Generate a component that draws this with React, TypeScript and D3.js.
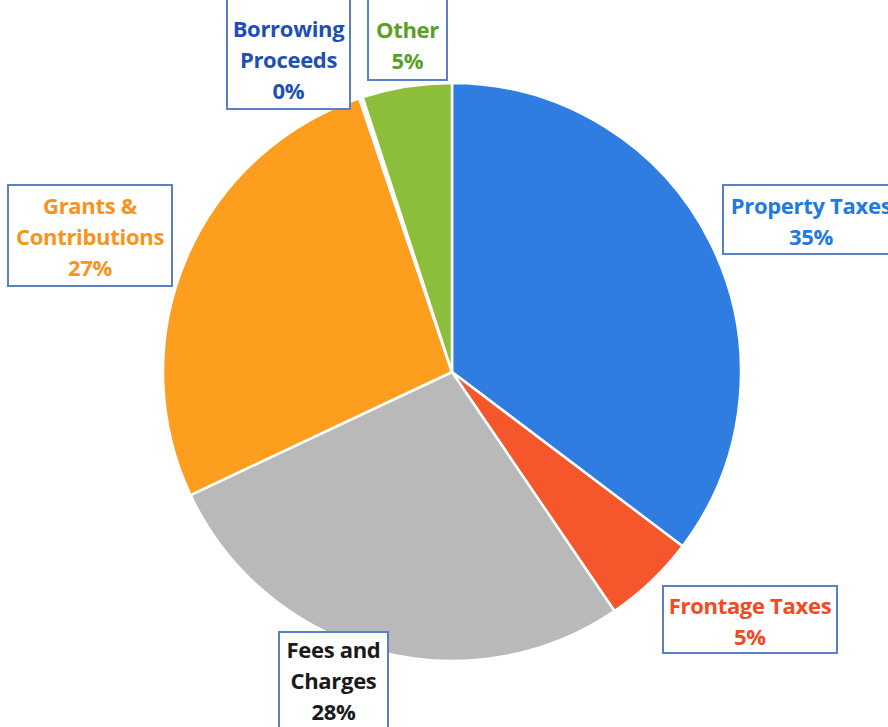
import React from "react";
import * as d3 from "d3";

const categories = ["Property Taxes", "Frontage Taxes", "Fees and Charges", "Grants & Contributions", "Borrowing Proceeds", "Other"];
const values = [35.3, 5.2, 27.5, 26.8, 0.2, 5.0];
const percentLabels = ["35%", "5%", "28%", "27%", "0%", "5%"];
const sliceColors = ["#2f7de0", "#f5562b", "#b9b9b9", "#fe9e1e", "#ffffff", "#8cbd3b"];
const labelColors = ["#1f7ae2", "#f24a22", "#1a1a1a", "#f7931e", "#1e50b4", "#5a9f26"];
const labelLines = [["Property Taxes", "35%"], ["Frontage Taxes", "5%"], ["Fees and", "Charges", "28%"], ["Grants &", "Contributions", "27%"], ["Borrowing", "Proceeds", "0%"], ["Other", "5%"]];
// label boxes: [x, y, w, h]
const boxes = [[723, 185, 180, 69], [663, 586, 174, 67], [279, 632, 109, 110], [8, 185, 164, 101], [227, -4, 123, 113], [368, -4, 79, 84]];
const textShift = [2, 2, -6, 2, 8, 8];

export default function App() {
  const W = 888, H = 727;
  const cx = 452, cy = 372, r = 289;
  const pie = d3.pie<number>().sort(null).value((d) => d)(values);
  const arc = d3.arc<d3.PieArcDatum<number>>().innerRadius(0).outerRadius(r);
  return (
    <svg width={W} height={H} style={{ position: "absolute", left: 0, top: 0, background: "#fff" }} fontFamily="'Open Sans', Lato, sans-serif">
      <g transform={`translate(${cx},${cy})`}>
        {pie.map((p, i) => (
          <path key={i} d={arc(p) || ""} fill={sliceColors[i]} stroke="#fff" strokeWidth={2.5} strokeLinejoin="round" />
        ))}
      </g>
      {boxes.map((b, i) => {
        const lines = labelLines[i];
        const lh = 31;
        const mid = b[1] + b[3] / 2 + textShift[i];
        const start = mid - ((lines.length - 1) * lh) / 2;
        return (
          <g key={i}>
            <rect x={b[0]} y={b[1]} width={b[2]} height={b[3]} fill="#fff" stroke="#5b7fc6" strokeWidth={2} />
            {lines.map((t, j) => (
              <text key={j} x={b[0] + b[2] / 2 - (i === 0 ? 2 : 0)} y={start + j * lh} dy="0.35em" textAnchor="middle" fontSize={22} fontWeight={700} fill={labelColors[i]} letterSpacing={-0.3}>
                {t}
              </text>
            ))}
          </g>
        );
      })}
    </svg>
  );
}
